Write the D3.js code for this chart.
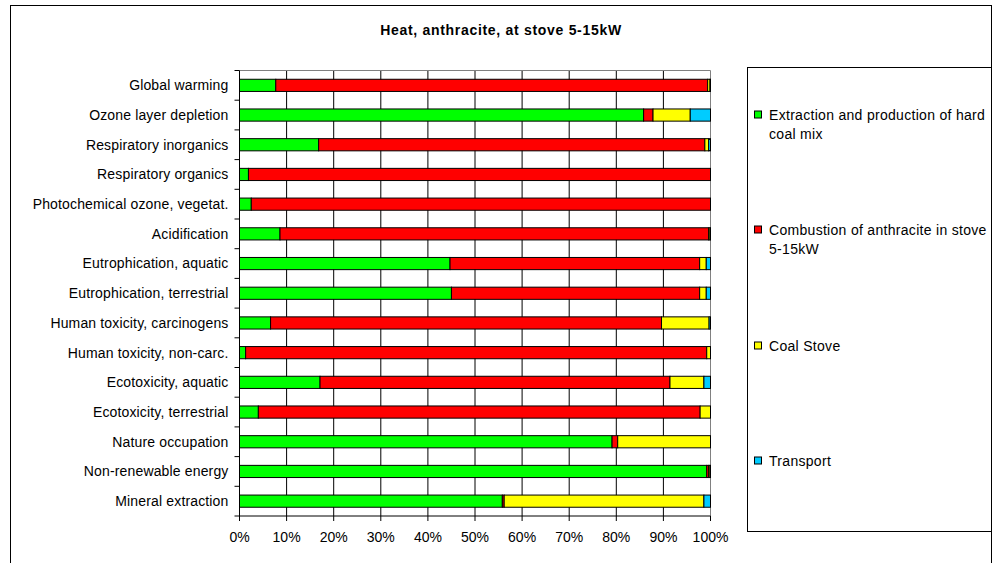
<!DOCTYPE html>
<html><head><meta charset="utf-8">
<script src="https://cdn.jsdelivr.net/npm/d3@7"></script>
<style>body{margin:0;background:#fff}svg{display:block}text{font-family:"Liberation Sans",Arial,sans-serif}</style>
</head><body>
<script>
const title = "Heat, anthracite, at stove 5-15kW";
const categories = ["Global warming","Ozone layer depletion","Respiratory inorganics","Respiratory organics","Photochemical ozone, vegetat.","Acidification","Eutrophication, aquatic","Eutrophication, terrestrial","Human toxicity, carcinogens","Human toxicity, non-carc.","Ecotoxicity, aquatic","Ecotoxicity, terrestrial","Nature occupation","Non-renewable energy","Mineral extraction"];
const seriesNames = ["Extraction and production of hard coal mix","Combustion of anthracite in stove 5-15kW","Coal Stove","Transport"];
const seriesColors = ["#00FF00","#FF0000","#FFFF00","#00CCFF"];
const extraction = [7.7,85.8,16.8,1.9,2.5,8.6,44.7,45.0,6.6,1.3,17.1,4.0,79.1,99.2,55.8];
const combustion = [91.7,2.0,82.0,98.1,97.5,91.0,53.0,52.7,83.0,97.9,74.3,93.8,1.2,0.4,0.4];
const coalStove  = [0.5,7.9,0.8,0.0,0.0,0.3,1.4,1.4,10.1,0.8,7.2,2.2,19.7,0.3,42.4];
const transport  = [0.1,4.3,0.4,0.0,0.0,0.1,0.9,0.9,0.3,0.0,1.4,0.0,0.0,0.1,1.4];
const xTicks = [0,10,20,30,40,50,60,70,80,90,100];

const W=997,H=563;
const svg=d3.select("body").append("svg").attr("width",W).attr("height",H);
svg.append("rect").attr("width",W).attr("height",H).attr("fill","#fff");
// outer frame
svg.append("rect").attr("x",10.5).attr("y",5.5).attr("width",981).attr("height",H).attr("fill","none").attr("stroke","#000");
svg.append("text").attr("x",501).attr("y",35).attr("text-anchor","middle").attr("font-size",14).attr("font-weight","bold").attr("letter-spacing",0.7).text(title);

const pL=239.5,pR=710.5,pT=70.5,pB=516;
const x=d3.scaleLinear().domain([0,100]).range([pL,pR]);
const y=d3.scaleBand().domain(categories).range([pT,pB]).paddingInner(0.59).paddingOuter(0.295);
const yb=d3.scaleBand().domain(categories).range([pT,pB]);

// gridlines
svg.append("g").selectAll("line").data(xTicks.slice(1)).join("line")
 .attr("x1",d=>x(d)).attr("x2",d=>x(d)).attr("y1",pT).attr("y2",pB).attr("stroke",d=>d===100?"#808080":"#000").attr("stroke-width",1);
svg.append("line").attr("x1",pL).attr("x2",pR).attr("y1",pT).attr("y2",pT).attr("stroke","#808080");

const rows=categories.map((c,i)=>({cat:c,s0:extraction[i],s1:combustion[i],s2:coalStove[i],s3:transport[i]}));
const stack=d3.stack().keys(["s0","s1","s2","s3"])(rows);
svg.append("g").selectAll("g").data(stack).join("g").attr("fill",(d,i)=>seriesColors[i])
 .selectAll("rect").data(d=>d.filter(p=>p[1]-p[0]>0)).join("rect")
 .attr("x",d=>x(d[0])).attr("width",d=>x(d[1])-x(d[0]))
 .attr("y",d=>y(d.data.cat)).attr("height",y.bandwidth())
 .attr("stroke","#000").attr("stroke-width",1);

// y axis
const gy=svg.append("g").attr("transform",`translate(${pL},0)`);
gy.append("line").attr("x1",0).attr("x2",0).attr("y1",pT).attr("y2",pB).attr("stroke","#000");
const bounds=categories.map(c=>yb(c)).concat([pB]);
gy.selectAll("line.t").data(bounds).join("line").attr("class","t").attr("x1",-5).attr("x2",0).attr("y1",d=>d).attr("y2",d=>d).attr("stroke","#000");
gy.selectAll("text").data(categories).join("text").attr("x",-11).attr("y",c=>yb(c)+yb.bandwidth()/2).attr("dy","0.35em").attr("text-anchor","end").attr("font-size",14).attr("letter-spacing",0.15).attr("fill","#000").text(c=>c);

// x axis
const gx=svg.append("g").attr("transform",`translate(0,${pB})`);
gx.append("line").attr("x1",pL).attr("x2",pR).attr("y1",0).attr("y2",0).attr("stroke","#000");
gx.selectAll("line.t").data(xTicks).join("line").attr("class","t").attr("x1",d=>x(d)).attr("x2",d=>x(d)).attr("y1",0).attr("y2",5).attr("stroke","#000");
gx.selectAll("text").data(xTicks).join("text").attr("x",d=>x(d)).attr("y",26).attr("text-anchor","middle").attr("font-size",14).attr("fill","#000").text(d=>d+"%");

// legend
svg.append("rect").attr("x",747.5).attr("y",67.5).attr("width",244).attr("height",464).attr("fill","#fff").attr("stroke","#000");
const legLines=[["Extraction and production of hard","coal mix"],["Combustion of anthracite in stove","5-15kW"],["Coal Stove"],["Transport"]];
const legY=[115,230,346,461];
const lg=svg.append("g").selectAll("g").data(seriesNames).join("g");
lg.append("rect").attr("x",754.5).attr("y",(d,i)=>legY[i]-4).attr("width",7).attr("height",7).attr("fill",(d,i)=>seriesColors[i]).attr("stroke","#000");
lg.append("text").attr("x",769).attr("y",(d,i)=>legY[i]).attr("font-size",14).attr("letter-spacing",0.3).attr("fill","#000")
 .selectAll("tspan").data((d,i)=>legLines[i]).join("tspan").attr("x",769).attr("dy",(d,j)=>j===0?"0.35em":"19px").text(d=>d);
</script>
</body></html>
